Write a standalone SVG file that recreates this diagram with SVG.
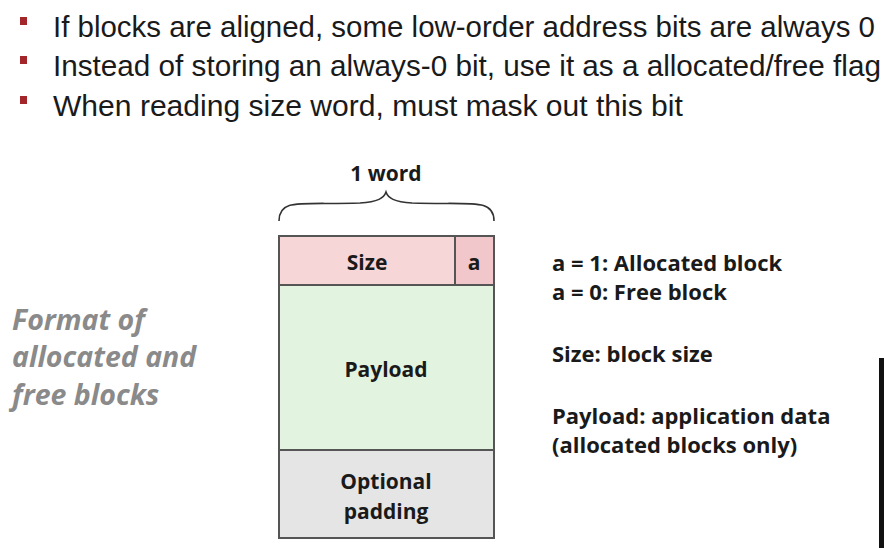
<svg xmlns="http://www.w3.org/2000/svg" width="884" height="548" viewBox="0 0 884 548">
<style>
.bul{font-family:"Liberation Sans",Arial,sans-serif;font-size:30px;fill:#1a1a1a}
.lbl{font-family:"Open Sans","Liberation Sans",sans-serif;font-size:21px;font-weight:bold;fill:#1a1a1a}
.leg{font-family:"Open Sans","Liberation Sans",sans-serif;font-size:22px;font-weight:bold;fill:#1a1a1a}
.side{font-family:"Open Sans","Liberation Sans",sans-serif;font-size:28.5px;font-weight:bold;font-style:italic;fill:#8a8a8a}
.box{stroke:#555;stroke-width:2}
.sq{fill:#a3262a}
</style>
<rect width="884" height="548" fill="#fff"/>
<g id="bullets">
<rect class="sq" x="20" y="17" width="7" height="8"/>
<rect class="sq" x="20" y="56" width="7" height="8"/>
<rect class="sq" x="20" y="96" width="7" height="8"/>
<g transform="translate(53,0) scale(0.85,1)">
<text class="bul" x="0" y="37" textLength="967" lengthAdjust="spacingAndGlyphs">If blocks are aligned, some low-order address bits are always 0</text>
<text class="bul" x="0" y="76" textLength="974" lengthAdjust="spacingAndGlyphs">Instead of storing an always-0 bit, use it as a allocated/free flag</text>
<text class="bul" x="0" y="116" textLength="741" lengthAdjust="spacingAndGlyphs">When reading size word, must mask out this bit</text>
</g>
</g>
<g id="word-label">
<text class="lbl" x="386" y="181" text-anchor="middle">1 word</text>
<path d="M279,221 C279,198 300,205 360,203 C378,202 384,198 386,192 C388,198 394,202 412,203 C472,205 494,198 494,221" fill="none" stroke="#333" stroke-width="1.6"/>
</g>
<g id="header">
<rect class="box" x="279" y="236" width="176" height="49" fill="#f7d6d8"/>
<rect class="box" x="455" y="236" width="39" height="49" fill="#f2c7cb"/>
<text class="lbl" x="367" y="270" text-anchor="middle">Size</text>
<text class="lbl" x="474" y="270" text-anchor="middle">a</text>
</g>
<g id="payload">
<rect class="box" x="279" y="285" width="215" height="165" fill="#e2f3e0"/>
<text class="lbl" x="386" y="377" text-anchor="middle">Payload</text>
</g>
<g id="padding">
<rect class="box" x="279" y="450" width="215" height="88" fill="#e5e5e5"/>
<text class="lbl" x="386" y="489" text-anchor="middle">Optional</text>
<text class="lbl" x="386" y="519" text-anchor="middle">padding</text>
</g>
<g id="side-title">
<text class="side" x="12" y="330">Format of</text>
<text class="side" x="12" y="367">allocated and</text>
<text class="side" x="12" y="405">free blocks</text>
</g>
<g id="legend">
<text class="leg" x="552" y="271">a = 1: Allocated block</text>
<text class="leg" x="552" y="300">a = 0: Free block</text>
<text class="leg" x="552" y="362">Size: block size</text>
<text class="leg" x="552" y="424">Payload: application data</text>
<text class="leg" x="552" y="453">(allocated blocks only)</text>
</g>
<rect x="879" y="358" width="5" height="190" fill="#111"/>
</svg>
